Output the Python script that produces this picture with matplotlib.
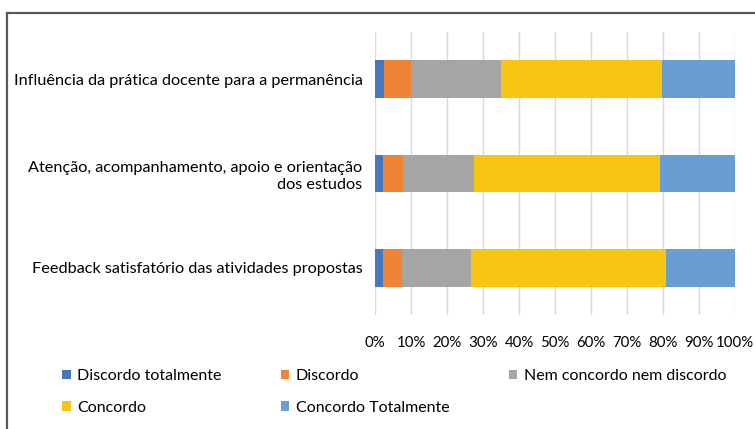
import numpy as np
import matplotlib
matplotlib.use("Agg")
import matplotlib.pyplot as plt
from matplotlib.lines import Line2D

# percentages (top to bottom)
itens = [
    "Influência da prática docente para a permanência",
    "Atenção, acompanhamento, apoio e orientação\ndos estudos",
    "Feedback satisfatório das atividades propostas",
]
discordo_total = [2.6, 2.2, 2.1]
discordo = [7.4, 5.5, 5.4]
nem_nem = [25.0, 19.7, 19.3]
concordo = [44.8, 51.9, 54.0]
concordo_total = [20.2, 20.7, 19.2]

series = ["Discordo totalmente", "Discordo", "Nem concordo nem discordo",
          "Concordo", "Concordo Totalmente"]
valores = [discordo_total, discordo, nem_nem, concordo, concordo_total]
cores = ["#4A76BE", "#EE8535", "#A5A5A5", "#F8C512", "#689ED4"]

plt.rcParams["font.family"] = ["Lato", "DejaVu Sans"]

fig = plt.figure(figsize=(7.55, 4.29), dpi=100)
ax = fig.add_axes([375 / 755, 1 - 315 / 429, 360 / 755, 283 / 429])

y = np.arange(len(itens))
left = np.zeros(len(itens))
handles = []
for nome, vals, cor in zip(series, valores, cores):
    b = ax.barh(y, vals, left=left, height=0.4, color=cor, label=nome, zorder=3)
    handles.append(b)
    left += np.array(vals)

ax.set_xlim(0, 100)
ax.set_ylim(2.5, -0.5)
ax.set_xticks(np.arange(0, 101, 10))
ax.set_xticklabels([f"{v}%" for v in range(0, 101, 10)], fontsize=10.8)
ax.set_yticks(y)
ax.set_yticklabels(itens, fontsize=11.7, ha="right", linespacing=1.3)
ax.tick_params(axis="both", length=0)
ax.tick_params(axis="x", pad=15)
ax.tick_params(axis="y", pad=9)
ax.grid(axis="x", color="#D9D9D9", linewidth=1, zorder=0)
for s in ax.spines.values():
    s.set_visible(False)

# legend: row-major order in 3 columns
ordem = [0, 3, 1, 4, 2]
fig.legend([handles[i] for i in ordem], [series[i] for i in ordem],
           ncol=3, loc="upper left",
           bbox_to_anchor=(62 / 755, 1 - 369 / 429),
           frameon=False, fontsize=11.5, handlelength=0.55, handleheight=0.55,
           handletextpad=0.4, labelspacing=1.1, columnspacing=3.7,
           borderpad=0, borderaxespad=0)

# frame lines around the figure (left and top)
fig.add_artist(Line2D([7 / 755, 7 / 755], [0, 1 - 13 / 429], color="#5A5A5A",
                      linewidth=1.6, transform=fig.transFigure))
fig.add_artist(Line2D([7 / 755, 1], [1 - 13 / 429, 1 - 13 / 429], color="#5A5A5A",
                      linewidth=1.6, transform=fig.transFigure))

fig.savefig("out.png", dpi=100)
